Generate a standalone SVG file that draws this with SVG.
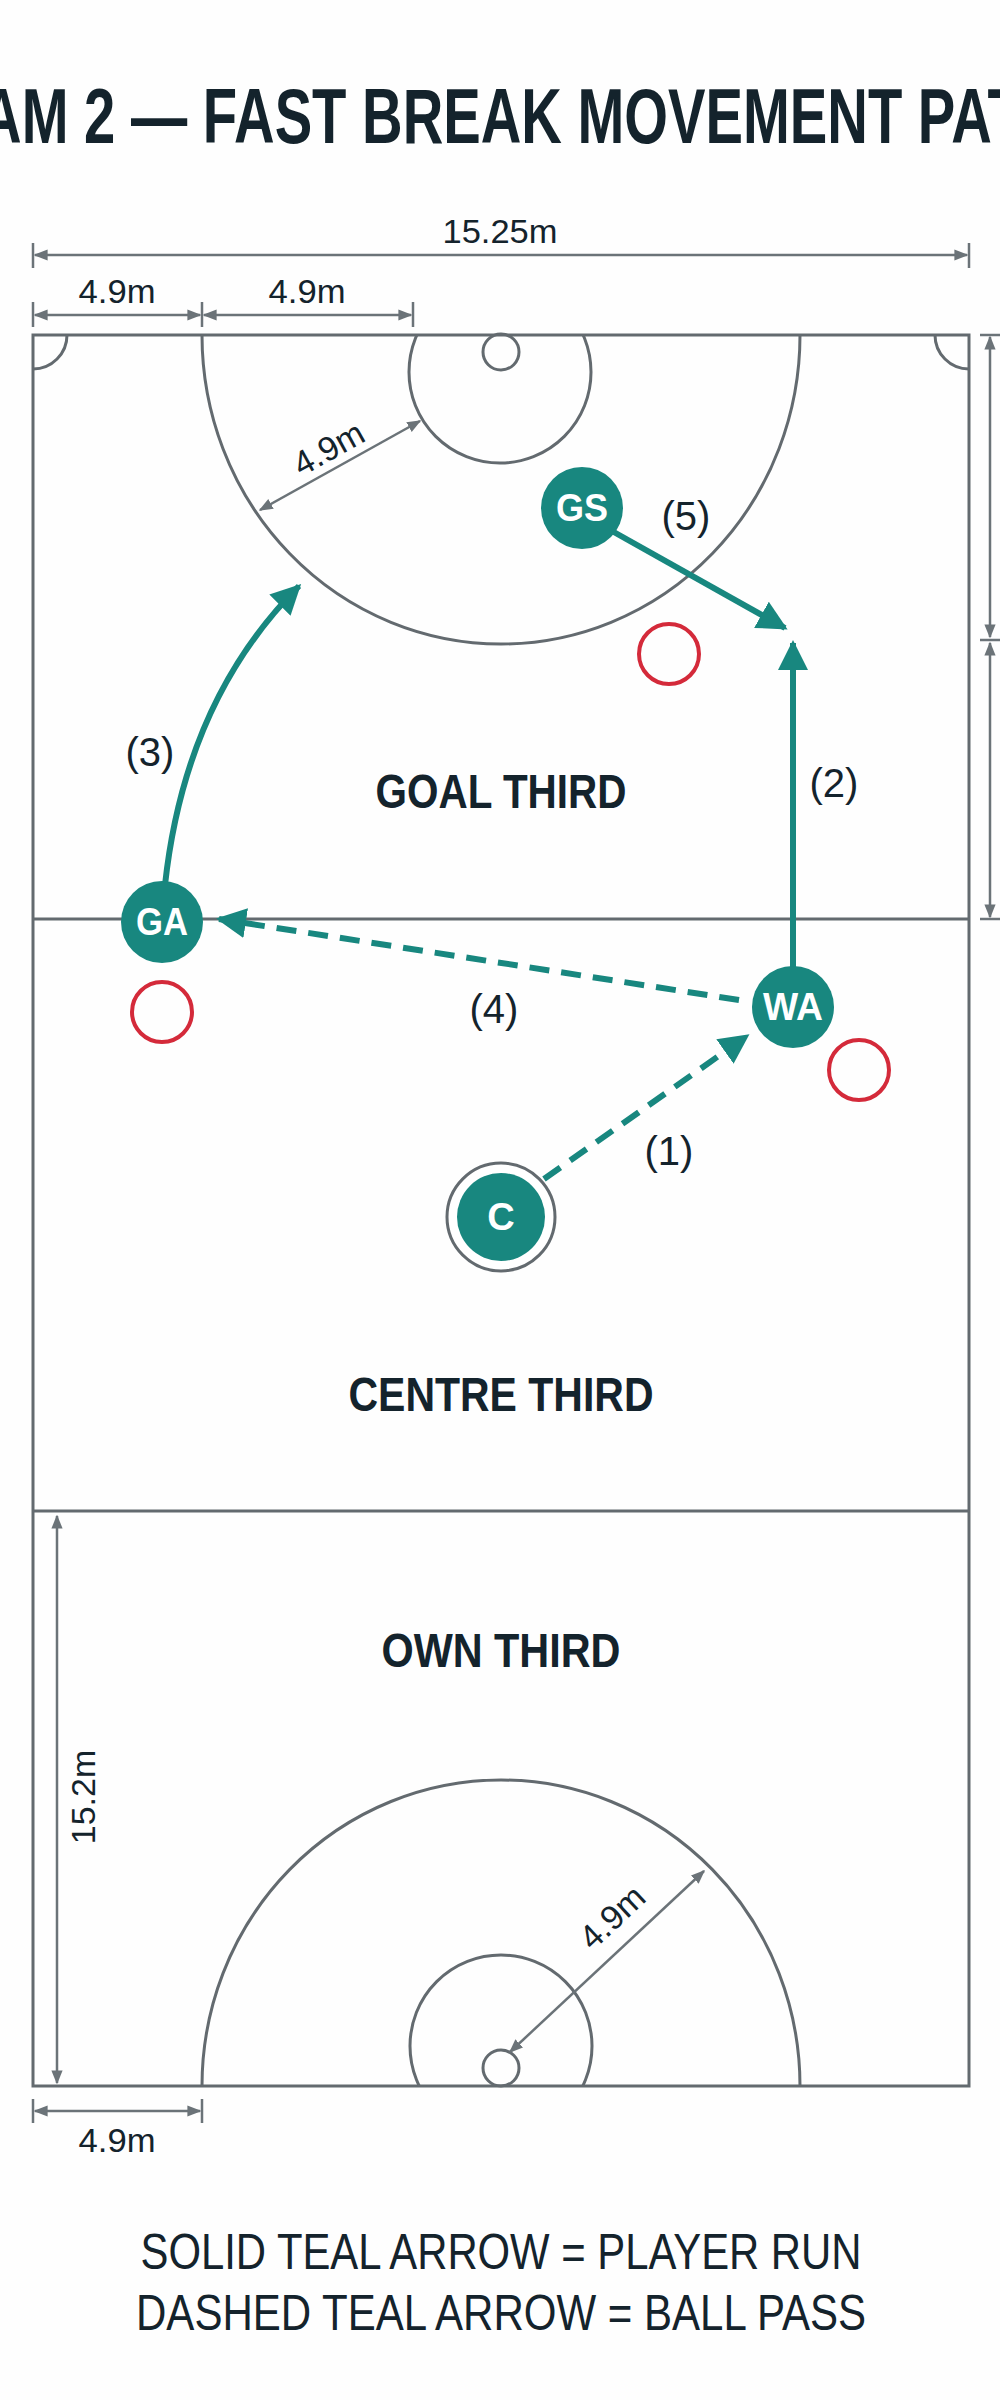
<svg xmlns="http://www.w3.org/2000/svg" width="1000" height="2400" viewBox="0 0 1000 2400">
<defs>
<style>
.court{fill:none;stroke:#636a6f;stroke-width:3}
.dim{fill:none;stroke:#6b7378;stroke-width:2.5}
.dimt{font-family:"Liberation Sans",Arial,sans-serif;font-size:34px;fill:#14232c}
.zone{font-family:"Liberation Sans",Arial,sans-serif;font-size:48px;font-weight:bold;fill:#14232c;text-anchor:middle}
.lbl{font-family:"Liberation Sans",Arial,sans-serif;font-size:40px;fill:#14232c;text-anchor:middle}
.pl{fill:#18877f}
.plt{font-family:"Liberation Sans",Arial,sans-serif;font-size:38px;font-weight:bold;fill:#fff;text-anchor:middle}
.def{fill:none;stroke:#d42a3a;stroke-width:4}
.run{fill:none;stroke:#18877f;stroke-width:6}
.pass{fill:none;stroke:#18877f;stroke-width:6;stroke-dasharray:20 12}
</style>
<marker id="ah" viewBox="0 0 10 10" refX="9" refY="5" markerWidth="30" markerHeight="30" markerUnits="userSpaceOnUse" orient="auto"><path d="M0,0 L10,5 L0,10 Z" fill="#18877f"/></marker>
<marker id="da" viewBox="0 0 10 10" refX="9" refY="5" markerWidth="14" markerHeight="14" markerUnits="userSpaceOnUse" orient="auto-start-reverse"><path d="M0,1 L10,5 L0,9 Z" fill="#6b7378"/></marker>
<clipPath id="cc"><rect x="33" y="335" width="936" height="1751"/></clipPath>
</defs>
<rect width="1000" height="2400" fill="#fefefe"/>
<text x="-200" y="143" textLength="1300" lengthAdjust="spacingAndGlyphs" font-family="Liberation Sans,Arial,sans-serif" font-size="78" font-weight="bold" fill="#14232c">DIAGRAM 2 — FAST BREAK MOVEMENT PATHS</text>
<g id="court">
<rect class="court" x="33" y="335" width="936" height="1751"/>
<line class="court" x1="33" y1="919" x2="969" y2="919"/>
<line class="court" x1="33" y1="1511" x2="969" y2="1511"/>
<g clip-path="url(#cc)">
<ellipse class="court" cx="501" cy="335" rx="299" ry="309"/>
<circle class="court" cx="500" cy="372" r="91"/>
<ellipse class="court" cx="501" cy="2086" rx="299" ry="306"/>
<circle class="court" cx="501" cy="2046" r="91"/>
<circle class="court" cx="33" cy="335" r="34"/>
<circle class="court" cx="969" cy="335" r="34"/>
</g>
<circle class="court" cx="501" cy="352" r="18"/>
<circle class="court" cx="501" cy="2068" r="18"/>
</g>
<g id="dimensions">
<line class="dim" x1="35" y1="255" x2="967" y2="255" marker-start="url(#da)" marker-end="url(#da)"/>
<line class="dim" x1="33" y1="243" x2="33" y2="268"/><line class="dim" x1="969" y1="243" x2="969" y2="268"/>
<text class="dimt" x="500" y="243" text-anchor="middle" textLength="115" lengthAdjust="spacingAndGlyphs">15.25m</text>
<line class="dim" x1="35" y1="315" x2="200" y2="315" marker-start="url(#da)" marker-end="url(#da)"/>
<line class="dim" x1="204" y1="315" x2="411" y2="315" marker-start="url(#da)" marker-end="url(#da)"/>
<line class="dim" x1="33" y1="302" x2="33" y2="327"/><line class="dim" x1="202" y1="302" x2="202" y2="327"/><line class="dim" x1="413" y1="302" x2="413" y2="327"/>
<text class="dimt" x="117" y="303" text-anchor="middle" textLength="77" lengthAdjust="spacingAndGlyphs">4.9m</text>
<text class="dimt" x="307" y="303" text-anchor="middle" textLength="77" lengthAdjust="spacingAndGlyphs">4.9m</text>
<line class="dim" x1="990" y1="337" x2="990" y2="637" marker-start="url(#da)" marker-end="url(#da)"/>
<line class="dim" x1="990" y1="643" x2="990" y2="917" marker-start="url(#da)" marker-end="url(#da)"/>
<line class="dim" x1="980" y1="335" x2="1000" y2="335"/><line class="dim" x1="980" y1="640" x2="1000" y2="640"/><line class="dim" x1="980" y1="919" x2="1000" y2="919"/>
<line class="dim" x1="420" y1="421" x2="260" y2="510" stroke-width="2" marker-start="url(#da)" marker-end="url(#da)"/>
<text class="dimt" x="329" y="460" text-anchor="middle" transform="rotate(-29 329 449)">4.9m</text>
<line class="dim" x1="57" y1="1516" x2="57" y2="2083" marker-start="url(#da)" marker-end="url(#da)"/>
<text class="dimt" x="83" y="1809" text-anchor="middle" transform="rotate(-90 83 1797)">15.2m</text>
<line class="dim" x1="35" y1="2111" x2="200" y2="2111" marker-start="url(#da)" marker-end="url(#da)"/>
<line class="dim" x1="33" y1="2099" x2="33" y2="2123"/><line class="dim" x1="202" y1="2099" x2="202" y2="2123"/>
<text class="dimt" x="117" y="2152" text-anchor="middle" textLength="77" lengthAdjust="spacingAndGlyphs">4.9m</text>
<line class="dim" x1="510" y1="2052" x2="704" y2="1871" stroke-width="2" marker-start="url(#da)" marker-end="url(#da)"/>
<text class="dimt" x="612" y="1929" text-anchor="middle" transform="rotate(-43 612 1917)">4.9m</text>
</g>
<g id="zones">
<text class="zone" x="501" y="808" textLength="251" lengthAdjust="spacingAndGlyphs">GOAL THIRD</text>
<text class="zone" x="501" y="1411" textLength="305" lengthAdjust="spacingAndGlyphs">CENTRE THIRD</text>
<text class="zone" x="501" y="1667" textLength="239" lengthAdjust="spacingAndGlyphs">OWN THIRD</text>
</g>
<g id="connectors">
<line class="run" x1="612" y1="531" x2="785" y2="628" marker-end="url(#ah)"/>
<line class="run" x1="793" y1="969" x2="793" y2="643" marker-end="url(#ah)"/>
<path class="run" d="M165,885 Q185,700 299,586" marker-end="url(#ah)"/>
<line class="pass" x1="739" y1="1000" x2="219" y2="919" marker-end="url(#ah)"/>
<line class="pass" x1="544" y1="1179" x2="747" y2="1036" marker-end="url(#ah)"/>
<text class="lbl" x="686" y="530">(5)</text>
<text class="lbl" x="834" y="797">(2)</text>
<text class="lbl" x="150" y="766">(3)</text>
<text class="lbl" x="494" y="1023">(4)</text>
<text class="lbl" x="669" y="1165">(1)</text>
</g>
<g id="defenders">
<circle class="def" cx="669" cy="654" r="30"/>
<circle class="def" cx="162" cy="1012" r="30"/>
<circle class="def" cx="859" cy="1070" r="30"/>
</g>
<g id="GS"><circle class="pl" cx="582" cy="508" r="41"/><text class="plt" x="582" y="521" textLength="52" lengthAdjust="spacingAndGlyphs">GS</text></g>
<g id="GA"><circle class="pl" cx="162" cy="922" r="41"/><text class="plt" x="162" y="935" textLength="52" lengthAdjust="spacingAndGlyphs">GA</text></g>
<g id="WA"><circle class="pl" cx="793" cy="1007" r="41"/><text class="plt" x="793" y="1020" textLength="60" lengthAdjust="spacingAndGlyphs">WA</text></g>
<g id="C"><circle cx="501" cy="1217" r="54" fill="#fff" stroke="#636a6f" stroke-width="3"/><circle class="pl" cx="501" cy="1217" r="44"/><text class="plt" x="501" y="1230">C</text></g>
<g id="legend">
<text x="501" y="2269" text-anchor="middle" textLength="721" lengthAdjust="spacingAndGlyphs" font-family="Liberation Sans,Arial,sans-serif" font-size="50" fill="#14232c">SOLID TEAL ARROW = PLAYER RUN</text>
<text x="501" y="2330" text-anchor="middle" textLength="730" lengthAdjust="spacingAndGlyphs" font-family="Liberation Sans,Arial,sans-serif" font-size="50" fill="#14232c">DASHED TEAL ARROW = BALL PASS</text>
</g>
</svg>
